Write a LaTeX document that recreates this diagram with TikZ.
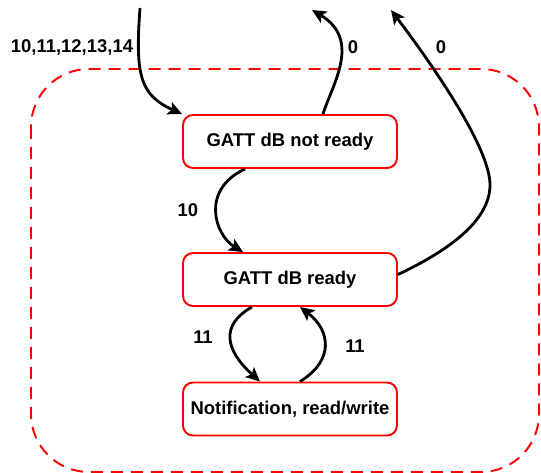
\documentclass[tikz,border=0pt]{standalone}
\usepackage{fontspec}
\setmainfont{Liberation Sans}
\usetikzlibrary{arrows.meta,calc}

\tikzset{
  state/.style={draw=red, line width=1.1pt, rounded corners=0.2cm, fill=white,
    minimum width=4.28cm, minimum height=1.06cm, inner sep=0pt, font=\bfseries\fontsize{10.5}{12}\selectfont},
  flow/.style={line width=1.6pt, -{Stealth[length=2.8mm,width=2.6mm,inset=0.6mm]}},
  lbl/.style={font=\bfseries\fontsize{10.5}{12}\selectfont}
}

\begin{document}
\begin{tikzpicture}[x=0.02cm, y=-0.02cm]
  \useasboundingbox (0,0) rectangle (541,473);
  % frame
  \draw[red, line width=1.1pt, dash pattern=on 0.24cm off 0.16cm, rounded corners=1.16cm]
    (31,69) rectangle (539,472);
  % states
  \node[state] (n1) at (290,141.5) {GATT dB not ready};
  \node[state] (n2) at (290,279.5) {GATT dB ready};
  \node[state] (n3) at (290,409)   {Notification, read/write};
  \coordinate (in1)  at (140,8);
  \coordinate (out1) at (312,10);
  \coordinate (out2) at (391,10);
  % transitions
  \draw[flow] (in1) .. controls (135,75) and (140,95) .. (n1.north west);
  \draw[flow] ($(n1.north)+(33,0)$) .. controls (332,85) and (362,40) .. (out1);
  \draw[flow] ($(n2.east)+(0,-5)$) .. controls (450,250) and (490,220) .. (490,185)
    .. controls (490,150) and (440,75) .. (out2);
  \draw[flow] ($(n1.south)+(-45,0)$) .. controls (200,190) and (215,235) .. ($(n2.north)+(-47,0)$);
  \draw[flow] ($(n2.south)+(-38,0)$) .. controls (220,325) and (225,350) .. ($(n3.north)+(-30,0)$);
  \draw[flow] ($(n3.north)+(10,0)$) .. controls (335,360) and (330,330) .. ($(n2.south)+(10,0)$);
  % labels
  \node[lbl] (l1) at (72,47)   {10,11,12,13,14};
  \node[lbl] (l2) at (353,47)  {0};
  \node[lbl] (l3) at (441,47)  {0};
  \node[lbl] (l4) at (188,210) {10};
  \node[lbl] (l5) at (203,337) {11};
  \node[lbl] (l6) at (355,346) {11};
\end{tikzpicture}
\end{document}
